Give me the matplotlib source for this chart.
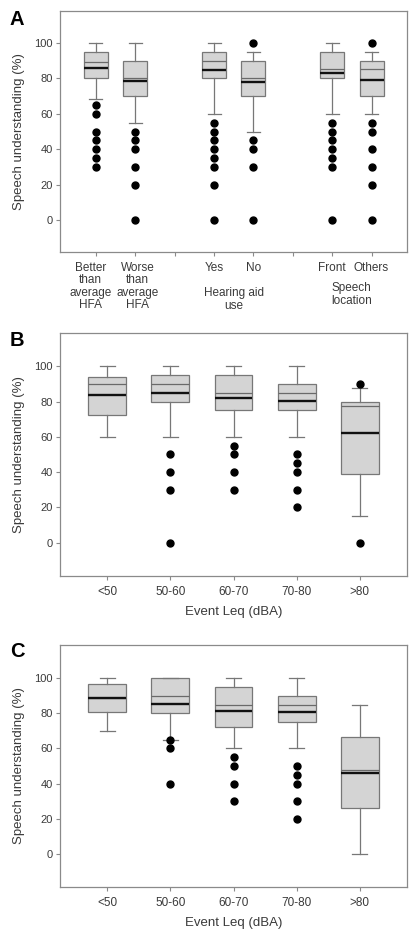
import numpy as np
import matplotlib
matplotlib.use('Agg')
import matplotlib.pyplot as plt
from matplotlib.transforms import blended_transform_factory, ScaledTranslation

plt.rcParams['font.family'] = ['Liberation Sans', 'DejaVu Sans']

# ---- Panel A: subgroups -------------------------------------------------
A_labels = ['Better\nthan\naverage\nHFA', 'Worse\nthan\naverage\nHFA',
            'Yes', 'No', 'Front', 'Others']
A_pos = [1, 2, 4, 5, 7, 8]
A_q1 = [80, 70, 80, 70, 80, 70]
A_q3 = [95, 90, 95, 90, 95, 90]
A_med = [89.5, 80, 90, 80, 85, 85]
A_mean = [86, 78.5, 84.5, 78, 83, 79]
A_lo = [68.5, 55, 60, 50, 60, 60]
A_hi = [100, 100, 100, 95, 100, 95]
A_out = [[65, 60, 50, 45, 40, 35, 30],
         [50, 45, 40, 30, 20, 0],
         [55, 50, 45, 40, 35, 30, 20, 0],
         [100, 45, 40, 30, 0],
         [55, 50, 45, 40, 35, 30, 0],
         [100, 55, 50, 40, 30, 20, 0]]
A_groups = ['Hearing aid\nuse', 'Speech\nlocation']

# ---- Panels B and C: event Leq ------------------------------------------
leq_labels = ['<50', '50-60', '60-70', '70-80', '>80']

B_q1 = [72.5, 80, 75, 75, 39]
B_q3 = [94, 95, 95, 90, 80]
B_med = [90, 90, 85, 85, 77.5]
B_mean = [84, 85, 82, 80.5, 62]
B_lo = [60, 60, 60, 60, 15]
B_hi = [100, 100, 100, 100, 87.5]
B_out = [[], [50, 40, 30, 0], [55, 50, 40, 30], [50, 45, 40, 30, 20], [90, 0]]

C_q1 = [81, 80, 72.5, 75, 26]
C_q3 = [96.5, 100, 95, 90, 66.5]
C_med = [88.5, 90, 85, 85, 47.5]
C_mean = [88.5, 85.5, 81.5, 81, 46]
C_lo = [70, 65, 60, 60, 0]
C_hi = [100, 100, 100, 100, 85]
C_out = [[], [65, 60, 40], [55, 50, 40, 30], [50, 45, 40, 30, 20], []]

GREY = '#777777'
TXT = '#3a3a3a'
W, H = 418, 942


def stats_list(q1, q3, med, mean, lo, hi, out):
    return [dict(q1=a, q3=b, med=c, mean=d, whislo=e, whishi=f, fliers=g)
            for a, b, c, d, e, f, g in zip(q1, q3, med, mean, lo, hi, out)]


def draw(ax, stats, pos, width, capw, ylim):
    ax.bxp(stats, positions=pos, widths=width, capwidths=capw,
           showmeans=True, meanline=True, patch_artist=True,
           boxprops=dict(facecolor='#d4d4d4', edgecolor=GREY, lw=0.9),
           whiskerprops=dict(color=GREY, lw=0.9),
           capprops=dict(color=GREY, lw=0.9),
           medianprops=dict(color='#6a6a6a', lw=0.9),
           meanprops=dict(color='#111111', lw=1.7, ls='-'),
           flierprops=dict(marker='o', markersize=5, markerfacecolor='black',
                           markeredgecolor='black'))
    ax.set_ylim(*ylim)
    ax.set_yticks(range(0, 101, 20))
    for s in ax.spines.values():
        s.set_color('#8a8a8a')
        s.set_linewidth(0.9)
    ax.tick_params(axis='both', direction='out', length=3, width=0.8,
                   color='#8a8a8a', labelcolor=TXT)
    ax.tick_params(axis='y', labelsize=8, pad=2)
    ax.tick_params(axis='x', labelsize=8.5, pad=4)
    ax.set_ylabel('Speech understanding (%)', fontsize=9.5, color=TXT, labelpad=7)


fig = plt.figure(figsize=(W / 100, H / 100), dpi=100)

def add_axes(top_px, bot_px):
    return fig.add_axes([60 / W, 1 - bot_px / H, 347 / W, (bot_px - top_px) / H])

# Panel A
axA = add_axes(11, 252)
draw(axA, stats_list(A_q1, A_q3, A_med, A_mean, A_lo, A_hi, A_out),
     A_pos, 0.61, 0.33, (-18, 118))
axA.set_xlim(0.09, 8.9)
axA.set_xticks(range(1, 9))
ticklabs = [''] * 8
for p, l in zip(A_pos, A_labels):
    ticklabs[p - 1] = l
axA.set_xticklabels(ticklabs, linespacing=1.05)
# nudge the two long labels apart, as in the original
for lab, dx in zip(axA.get_xticklabels()[:2], (-3.6, 1.6)):
    lab.set_transform(lab.get_transform() + ScaledTranslation(dx / 72, 0, fig.dpi_scale_trans))
tr = blended_transform_factory(axA.transData, fig.transFigure)
axA.text(4.5, 1 - 299.5 / H, A_groups[0], transform=tr, ha='center', va='center',
         fontsize=8.5, color=TXT, linespacing=1.05)
axA.text(7.5, 1 - 294.5 / H, A_groups[1], transform=tr, ha='center', va='center',
         fontsize=8.5, color=TXT, linespacing=1.15)
fig.text(10 / W, 1 - 25 / H, 'A', fontsize=14.5, fontweight='bold', ha='left', va='baseline')

# Panel B
axB = add_axes(333, 576)
draw(axB, stats_list(B_q1, B_q3, B_med, B_mean, B_lo, B_hi, B_out),
     range(1, 6), 0.6, 0.24, (-19, 119))
axB.set_xlim(0.25, 5.75)
axB.set_xticks(range(1, 6))
axB.set_xticklabels(leq_labels)
axB.set_xlabel('Event Leq (dBA)', fontsize=9.5, color=TXT, labelpad=6)
fig.text(10 / W, 1 - 346 / H, 'B', fontsize=14.5, fontweight='bold', ha='left', va='baseline')

# Panel C
axC = add_axes(645, 887)
draw(axC, stats_list(C_q1, C_q3, C_med, C_mean, C_lo, C_hi, C_out),
     range(1, 6), 0.6, 0.24, (-19, 119))
axC.set_xlim(0.25, 5.75)
axC.set_xticks(range(1, 6))
axC.set_xticklabels(leq_labels)
axC.set_xlabel('Event Leq (dBA)', fontsize=9.5, color=TXT, labelpad=6)
fig.text(10 / W, 1 - 657 / H, 'C', fontsize=14.5, fontweight='bold', ha='left', va='baseline')

fig.savefig('out.png', dpi=100)
